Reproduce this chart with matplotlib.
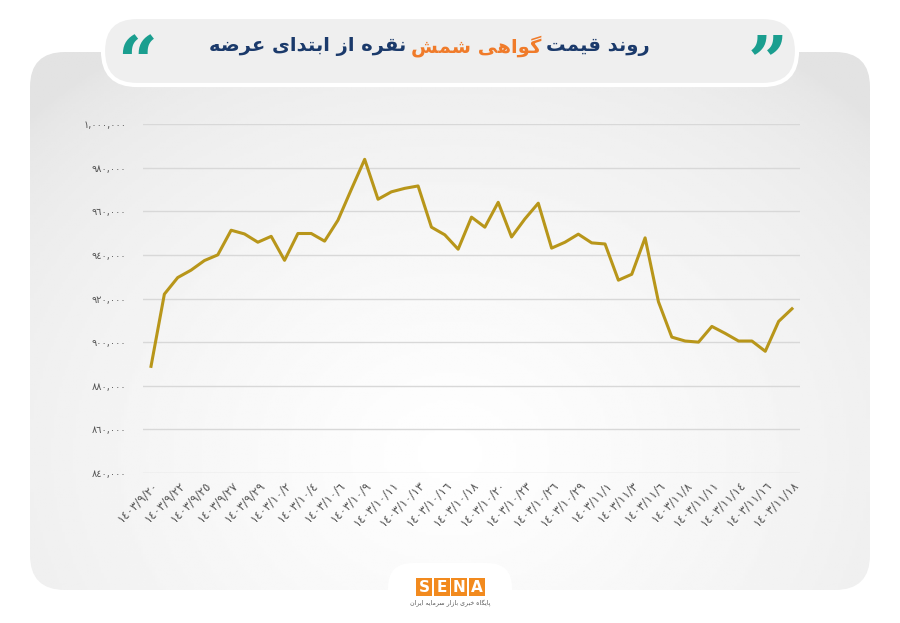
import numpy as np
import matplotlib
matplotlib.use("Agg")
import matplotlib.pyplot as plt
from matplotlib.patches import FancyBboxPatch, Rectangle

# ---------------- data ----------------
dates = ["9/20","9/22","9/25","9/27","9/29","10/2","10/4","10/6","10/9","10/11","10/13",
         "10/16","10/18","10/20","10/23","10/26","10/29","11/1","11/3","11/6","11/8",
         "11/11","11/14","11/16","11/18"]
prices = [888900, 922000, 929600, 933000, 937400, 940000, 951300, 949600, 945800, 948500,
          937500, 949800, 949800, 946300, 955900, 970000, 983800, 965500, 968900, 970500,
          971600, 952700, 949200, 942600, 957300, 952700, 964100, 948200, 956500, 963700,
          943100, 945800, 949500, 945500, 945000, 928400, 931100, 947800, 918500, 902300,
          900500, 900000, 907200, 904000, 900500, 900500, 895800, 909500, 915300]
yticks = [840000, 860000, 880000, 900000, 920000, 940000, 960000, 980000, 1000000]
title_parts = [("روند قیمت", "#1b3a6b"), ("گواهی شمش", "#f07b2a"), ("نقره از ابتدای عرضه", "#1b3a6b")]

# ---------------- minimal Persian shaping ----------------
FORMS = {
    'ا': (0xFE8D, 0xFE8E, None, None), 'د': (0xFEA9, 0xFEAA, None, None),
    'ر': (0xFEAD, 0xFEAE, None, None), 'ز': (0xFEAF, 0xFEB0, None, None),
    'و': (0xFEED, 0xFEEE, None, None),
    'ب': (0xFE8F, 0xFE90, 0xFE91, 0xFE92), 'ت': (0xFE95, 0xFE96, 0xFE97, 0xFE98),
    'خ': (0xFEA5, 0xFEA6, 0xFEA7, 0xFEA8), 'س': (0xFEB1, 0xFEB2, 0xFEB3, 0xFEB4),
    'ش': (0xFEB5, 0xFEB6, 0xFEB7, 0xFEB8), 'ض': (0xFEBD, 0xFEBE, 0xFEBF, 0xFEC0),
    'ع': (0xFEC9, 0xFECA, 0xFECB, 0xFECC), 'ق': (0xFED5, 0xFED6, 0xFED7, 0xFED8),
    'م': (0xFEE1, 0xFEE2, 0xFEE3, 0xFEE4), 'ن': (0xFEE5, 0xFEE6, 0xFEE7, 0xFEE8),
    'ه': (0xFEE9, 0xFEEA, 0xFEEB, 0xFEEC), 'ی': (0xFBFC, 0xFBFD, 0xFBFE, 0xFBFF),
    'گ': (0xFB92, 0xFB93, 0xFB94, 0xFB95), 'پ': (0xFB56, 0xFB57, 0xFB58, 0xFB59),
}
def shape(s):
    out = []
    for i, c in enumerate(s):
        if c not in FORMS:
            out.append(c); continue
        prev = s[i-1] if i > 0 else ''
        nxt = s[i+1] if i + 1 < len(s) else ''
        jp = prev in FORMS and FORMS[prev][2] is not None
        jn = nxt in FORMS and FORMS[c][2] is not None
        f = FORMS[c]
        if jp and jn: code = f[3]
        elif jp: code = f[1]
        elif jn: code = f[2]
        else: code = f[0]
        out.append(chr(code))
    return ''.join(out)[::-1]

AR = str.maketrans("0123456789", "٠١٢٣٤٥٦٧٨٩")
def ar(s): return s.translate(AR)

# ---------------- figure ----------------
W, H = 900, 623
fig = plt.figure(figsize=(9, 6.23), dpi=100)
fig.patch.set_facecolor("white")

bg = fig.add_axes([0, 0, 1, 1]); bg.set_xlim(0, W); bg.set_ylim(H, 0); bg.axis("off")
panel = FancyBboxPatch((30, 52), 840, 538, boxstyle="round,pad=0,rounding_size=35",
                       fc="none", ec="none")
bg.add_patch(panel)
yy, xx = np.mgrid[0:1:200j, 0:1:300j]
grad = 0.89 + 0.11 * np.clip(1 - np.sqrt(((xx - 0.5) / 0.7) ** 2 + ((yy - 0.75) / 0.9) ** 2), 0, 1) ** 0.6
im = bg.imshow(grad, cmap="gray", vmin=0, vmax=1, extent=(30, 870, 590, 52), zorder=1, aspect="auto")
im.set_clip_path(panel)
pill = FancyBboxPatch((103, 17), 694, 68, boxstyle="round,pad=0,rounding_size=34",
                      fc="#efefef", ec="white", lw=3, zorder=3)
bg.add_patch(pill)
bg.add_patch(FancyBboxPatch((388, 563), 124, 60, boxstyle="round,pad=0,rounding_size=25",
                            fc="white", ec="none", zorder=3))
for i, L in enumerate("SENA"):
    bg.add_patch(Rectangle((416 + i * 17.5, 578), 16, 18, fc="#f28a1e", ec="none", zorder=4))
    bg.text(424 + i * 17.5, 587.5, L, color="white", fontsize=11, fontweight="bold",
            ha="center", va="center", zorder=5)
bg.text(450, 603, shape("پایگاه خبری بازار سرمایه ایران"), fontsize=4.5, color="#555555",
        ha="center", va="center", zorder=5)
bg.text(137, 66, "“", fontsize=50, color="#1a9e8f", fontweight="bold", family="DejaVu Serif",
        ha="center", va="center", zorder=4)
bg.text(768, 66, "”", fontsize=50, color="#1a9e8f", fontweight="bold", family="DejaVu Serif",
        ha="center", va="center", zorder=4)

# title parts drawn right-to-left
r = fig.canvas.get_renderer()
x = 650
for txt, col in title_parts:
    t = bg.text(x, 46, shape(txt), fontsize=14, fontweight="bold", color=col,
                ha="right", va="center", zorder=5)
    x -= t.get_window_extent(renderer=r).width + 5

# ---------------- chart ----------------
ax = fig.add_axes([143 / W, 1 - 473 / H, (800 - 143) / W, (473 - 124) / H])
ax.patch.set_alpha(0)
xs = np.arange(len(prices))
ax.plot(xs, prices, color="#b8961a", lw=2.2, zorder=3)
ax.set_ylim(840000, 1000000)
ax.set_xlim(-0.6, len(prices) - 0.4)
ax.set_yticks(yticks)
ax.set_yticklabels([ar(f"{v:,}") for v in yticks], fontsize=7, color="#555555")
ax.set_xticks(xs[::2])
ax.set_xticklabels([ar("1403/" + d) for d in dates],
                   rotation=45, ha="right", rotation_mode="anchor", fontsize=8.5, color="#555555")
ax.grid(axis="y", color="#d8d8d8", lw=1)
ax.tick_params(length=0, pad=12)
ax.tick_params(axis="x", pad=4)
for s in ax.spines.values():
    s.set_visible(False)

fig.savefig("out.png", dpi=100)
